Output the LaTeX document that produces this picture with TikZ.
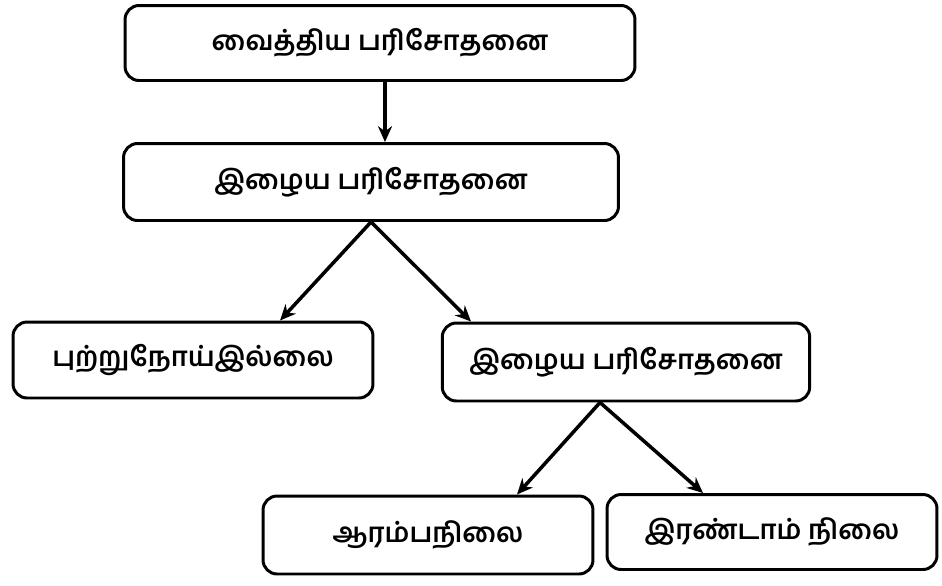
\documentclass[tikz,border=0pt]{standalone}
\usepackage{fontspec}
\newfontfamily\tamilfont[Script=Tamil]{Hind Madurai}
\usetikzlibrary{arrows.meta}

\tikzset{
  box/.style={draw, line width=1.7pt, rounded corners=8pt, align=center,
    font=\tamilfont\bfseries\fontsize{15.5}{19}\selectfont},
  link/.style={line width=2pt, -{Stealth[length=9pt,width=8pt]}}
}

\begin{document}
\begin{tikzpicture}[x=0.02cm,y=-0.02cm]
      \useasboundingbox (0,0) rectangle (942,585);
      \node[box, minimum width=10.2cm, minimum height=1.5cm] (med) at (380,43) {வைத்திய பரிசோதனை};
      \node[box, minimum width=9.9cm, minimum height=1.54cm] (tis) at (371,182) {இழைய பரிசோதனை};
      \node[box, minimum width=7.2cm, minimum height=1.52cm] (nocan) at (193,360) {புற்றுநோய்இல்லை};
      \node[box, minimum width=7.35cm, minimum height=1.56cm] (tis2) at (626,362) {இழைய பரிசோதனை};
      \node[box, minimum width=6.6cm, minimum height=1.56cm] (first) at (428,535) {ஆரம்பநிலை};
      \node[box, minimum width=6.6cm, minimum height=1.5cm] (second) at (772,532) {இரண்டாம் நிலை};
      \draw[link] ([xshift=0.1cm]med.south) -- ([xshift=0.1cm]med.south |- tis.north);
      \draw[link] (tis.south) -- ([xshift=1.74cm]nocan.north);
      \draw[link] (tis.south) -- ([xshift=-3.1cm]tis2.north);
      \draw[link] ([xshift=-0.52cm]tis2.south) -- ([xshift=1.78cm]first.north);
      \draw[link] ([xshift=-0.52cm]tis2.south) -- ([xshift=-1.38cm]second.north);
    \end{tikzpicture}
\end{document}
